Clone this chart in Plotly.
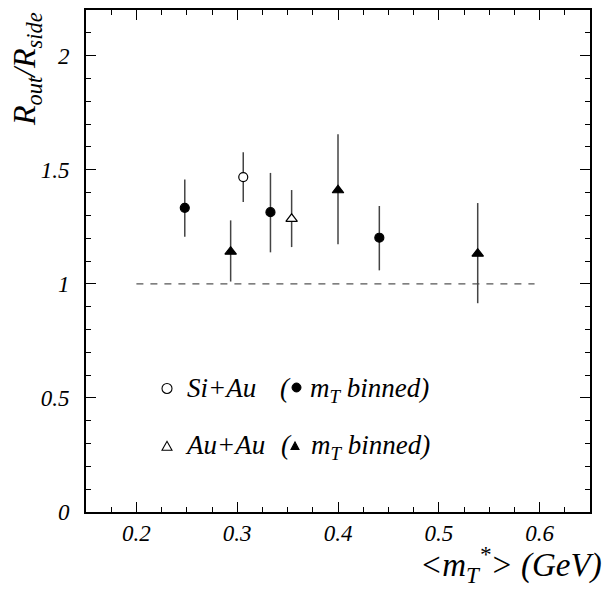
import plotly.graph_objects as go

# Filled circles: Si+Au m_T binned
si_bin_x = [0.248, 0.333, 0.441]
si_bin_y = [1.333, 1.314, 1.202]
si_bin_ep = [0.124, 0.172, 0.139]
si_bin_em = [0.127, 0.176, 0.143]

# Filled triangles: Au+Au m_T binned
au_bin_x = [0.2935, 0.400, 0.5386]
au_bin_y = [1.141, 1.410, 1.132]
au_bin_ep = [0.137, 0.246, 0.222]
au_bin_em = [0.131, 0.237, 0.217]

# Open circle: Si+Au integrated
si_x = [0.306]
si_y = [1.468]
si_ep = [0.109]
si_em = [0.109]

# Open triangle: Au+Au integrated
au_x = [0.354]
au_y = [1.285]
au_ep = [0.126]
au_em = [0.124]

ref_x = [0.2, 0.595]
ref_y = [1.0, 1.0]

x_ticks = [0.2, 0.3, 0.4, 0.5, 0.6]
x_ticklabels = ["0.2", "0.3", "0.4", "0.5", "0.6"]
y_ticks = [0, 0.5, 1, 1.5, 2]
y_ticklabels = ["0", "0.5", "1", "1.5", "2"]

FONT = "Liberation Serif"
ERRC = "#444444"

# plot-area geometry (pixels) used to place legend decorations in paper units
W, H = 605, 596
ML, MR, MT, MB = 86, 15, 8, 84
PW, PH = W - ML - MR, H - MT - MB


def px(x):
    return (x - ML) / PW


def py(y):
    return (H - MB - y) / PH


fig = go.Figure()

fig.add_trace(go.Scatter(x=ref_x, y=ref_y, mode="lines",
                         line=dict(color="#555555", width=1.3, dash="7px,7px"),
                         showlegend=False, hoverinfo="skip"))


def add(x, y, ep, em, symbol, color, lcolor, size):
    fig.add_trace(go.Scatter(
        x=x, y=y, mode="markers",
        error_y=dict(type="data", symmetric=False, array=ep, arrayminus=em,
                     color=ERRC, thickness=1.5, width=0),
        marker=dict(symbol=symbol, size=size, color=color,
                    line=dict(color=lcolor, width=1.2)),
        showlegend=False))


add(si_bin_x, si_bin_y, si_bin_ep, si_bin_em, "circle", "black", "black", 9)
add(au_bin_x, au_bin_y, au_bin_ep, au_bin_em, "triangle-up", "black", "black", 10)
add(si_x, si_y, si_ep, si_em, "circle", "white", "black", 9)
add(au_x, au_y, au_ep, au_em, "triangle-up", "white", "black", 10)

axis_common = dict(
    showline=True, linecolor="black", linewidth=1.6, mirror="ticks",
    ticks="inside", ticklen=10, tickwidth=1.3, tickcolor="black",
    showgrid=False, zeroline=False,
    tickfont=dict(family=FONT, size=23, color="black"),
)

fig.update_xaxes(range=[0.15, 0.65], tickvals=x_ticks,
                 ticktext=[f"<i>{t}</i>" for t in x_ticklabels],
                 minor=dict(dtick=0.025, tick0=0.15, ticks="inside", ticklen=5,
                            tickwidth=1.2, tickcolor="black"),
                 ticklabelstandoff=0,
                 **axis_common)
fig.update_yaxes(range=[0, 2.2], tickvals=y_ticks,
                 ticktext=[f"<i>{t}</i>" for t in y_ticklabels],
                 minor=dict(dtick=0.1, tick0=0, ticks="inside", ticklen=5,
                            tickwidth=1.2, tickcolor="black"),
                 ticklabelstandoff=10,
                 **axis_common)

LF = dict(family=FONT, size=27, color="black")


def txt(text, x, ytop):
    return dict(text=text, xref="paper", yref="paper", x=px(x), y=py(ytop),
                xanchor="left", yanchor="top", showarrow=False, font=LF)


annots = [
    dict(text="<i>R<sub>out</sub>/R<sub>side</sub></i>", xref="paper", yref="paper",
         x=px(26), y=1.0, xanchor="center", yanchor="top", textangle=-90,
         showarrow=False, font=dict(family=FONT, size=32, color="black")),
    dict(text="<i>&lt;m<sub>T</sub><sup>*</sup>&gt; (GeV)</i>", xref="paper", yref="paper",
         x=px(604), y=py(565), xanchor="right", yanchor="middle",
         showarrow=False, font=dict(family=FONT, size=33, color="black")),
    txt("<i>Si+Au</i>", 185, 370),
    txt("<i>(</i>", 278, 370),
    txt("<i>m<sub>T</sub> binned)</i>", 308, 370),
    txt("<i>Au+Au</i>", 183, 428),
    txt("<i>(</i>", 279, 428),
    txt("<i>m<sub>T</sub> binned)</i>", 309, 428),
]

shapes = [
    # open circle (Si+Au)
    dict(type="circle", xref="paper", yref="paper",
         x0=px(162), x1=px(172), y0=py(393), y1=py(383),
         line=dict(color="black", width=1.1), fillcolor="white"),
    # filled circle
    dict(type="circle", xref="paper", yref="paper",
         x0=px(292), x1=px(301), y0=py(391.5), y1=py(382.5),
         line=dict(color="black", width=1), fillcolor="black"),
]


def tri(cx, cy, w, h, fill):
    x0, x1 = px(cx - w / 2), px(cx + w / 2)
    xc = px(cx)
    yb, yt = py(cy + h / 2), py(cy - h / 2)
    return dict(type="path", xref="paper", yref="paper",
                path=f"M {x0},{yb} L {x1},{yb} L {xc},{yt} Z",
                line=dict(color="black", width=1.1), fillcolor=fill)


shapes.append(tri(167, 445.5, 10, 9, "white"))
shapes.append(tri(295, 445.5, 8, 7.5, "black"))

fig.update_layout(
    width=W, height=H,
    margin=dict(l=ML, r=MR, t=MT, b=MB),
    font=dict(family=FONT),
    plot_bgcolor="white", paper_bgcolor="white",
    annotations=annots,
    shapes=shapes,
    showlegend=False,
)

fig.write_html("out.html")
